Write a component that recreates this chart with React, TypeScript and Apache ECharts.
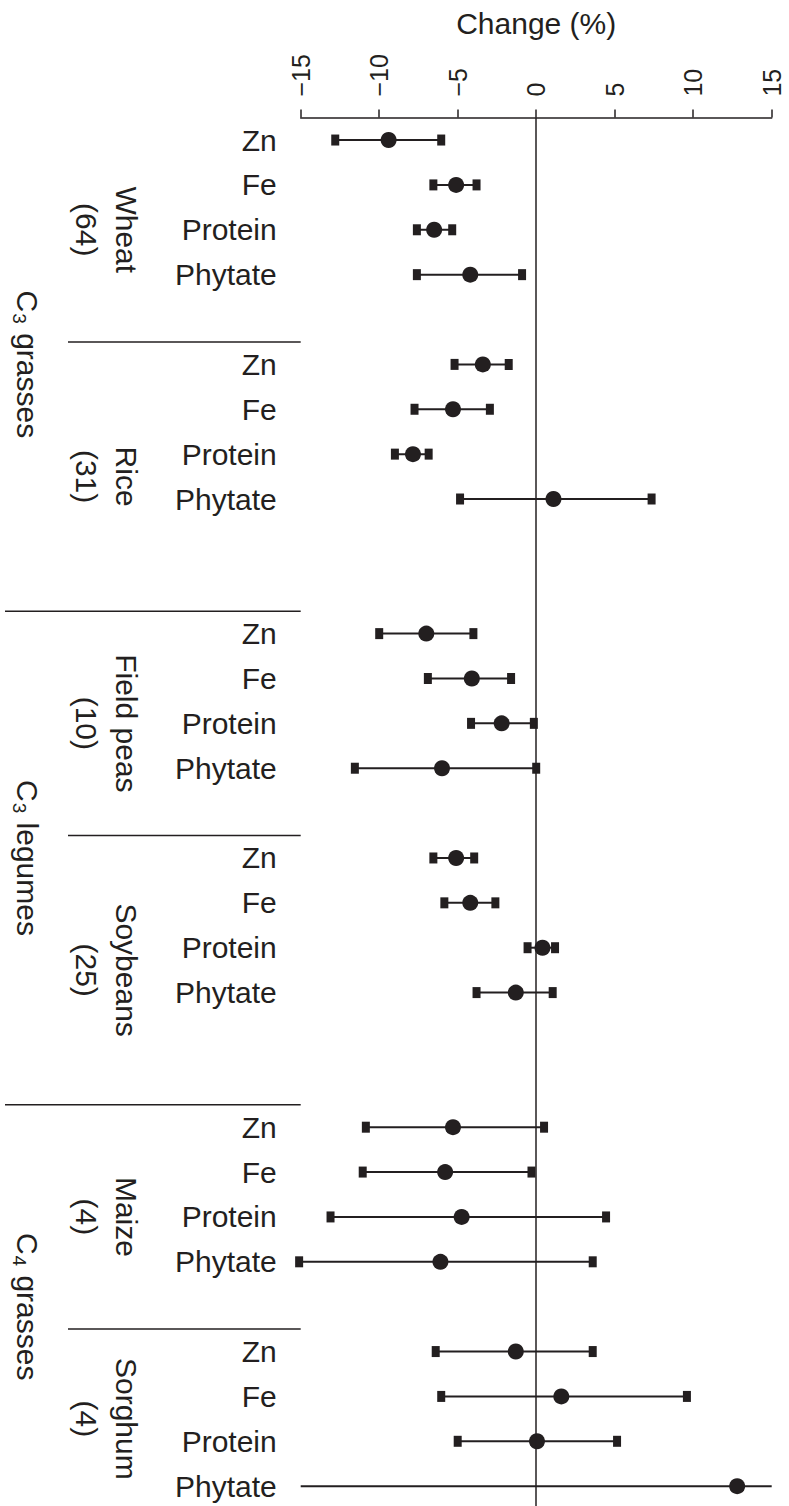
import React, { useEffect, useRef } from "react";
import * as echarts from "echarts";

// ---- data ----
const crops = ["Wheat", "Rice", "Field peas", "Soybeans", "Maize", "Sorghum"];
const cropCounts = ["(64)", "(31)", "(10)", "(25)", "(4)", "(4)"];
const nutrients = ["Zn", "Fe", "Protein", "Phytate"];
const blankRowsAfter = [1, 2, 1, 2, 1, 0];
const groupBase = ["C", "C", "C"];
const groupSub = ["3", "3", "4"];
const groupRest = [" grasses", " legumes", " grasses"];
const groupFirstCrop = [0, 2, 4];
const groupLastCrop = [1, 3, 5];

// per crop: Zn, Fe, Protein, Phytate
const meanChange = [
  -9.4, -5.1, -6.5, -4.2,
  -3.4, -5.3, -7.85, 1.1,
  -7.0, -4.1, -2.2, -6.0,
  -5.1, -4.2, 0.4, -1.3,
  -5.3, -5.8, -4.75, -6.1,
  -1.3, 1.6, 0.05, 12.8,
];
const lowerCI = [
  -12.8, -6.55, -7.6, -7.6,
  -5.2, -7.75, -9.0, -4.85,
  -10.0, -6.9, -4.15, -11.55,
  -6.55, -5.85, -0.55, -3.8,
  -10.85, -11.05, -13.1, -15.1,
  -6.4, -6.05, -5.0, -17.0,
];
const upperCI = [
  -6.05, -3.8, -5.35, -0.9,
  -1.75, -2.95, -6.85, 7.35,
  -4.0, -1.6, -0.15, 0.0,
  -3.95, -2.6, 1.2, 1.05,
  0.5, -0.3, 4.45, 3.6,
  3.6, 9.6, 5.15, 42.0,
];
const xMin = -15;
const xMax = 15;
const xStep = 5;

const INK = "#231f20";
const FONT = "Liberation Sans, Arial, Helvetica, sans-serif";
const NARROW = "Liberation Sans Narrow, Arial Narrow, Liberation Sans, sans-serif";

export default function App() {
  const ref = useRef<HTMLDivElement>(null);

  useEffect(() => {
    if (!ref.current) return;
    const chart = echarts.init(ref.current, null, { renderer: "svg" });

    // build rows
    const rowIds: string[] = [];
    const rowLabels: Record<string, string> = {};
    const cropStart: number[] = [];
    const points: number[][] = [];
    const bars: number[][] = [];
    let blankCount = 0;
    crops.forEach((crop, ci) => {
      cropStart.push(rowIds.length);
      nutrients.forEach((nut, ni) => {
        const id = crop + "|" + nut;
        const k = ci * nutrients.length + ni;
        const row = rowIds.length;
        rowIds.push(id);
        rowLabels[id] = nut;
        points.push([meanChange[k], row]);
        bars.push([lowerCI[k], upperCI[k], meanChange[k], row]);
      });
      for (let b = 0; b < blankRowsAfter[ci]; b++) {
        const id = "blank" + blankCount++;
        rowIds.push(id);
        rowLabels[id] = "";
      }
    });

    const option: any = {
      animation: false,
      backgroundColor: "#fff",
      textStyle: { fontFamily: FONT, color: INK },
      grid: {
        left: 300.7,
        right: 17.3,
        top: 117.6,
        height: 1391,
        containLabel: false,
        outerBoundsMode: "none",
      },
      xAxis: {
        type: "value",
        position: "top",
        min: xMin,
        max: xMax,
        interval: xStep,
        name: "Change (%)",
        nameLocation: "middle",
        nameGap: 79,
        nameMoveOverlap: false,
        nameTextStyle: { fontSize: 30, color: INK, fontFamily: FONT },
        axisLine: { show: true, lineStyle: { color: INK, width: 1.5 } },
        axisTick: { show: true, length: 8, lineStyle: { color: INK, width: 1.5 } },
        splitLine: { show: false },
        axisLabel: {
          rotate: -90,
          fontSize: 25,
          margin: 21,
          color: INK,
          fontFamily: NARROW,
          formatter: (v: number) => (v < 0 ? "\u2212" + Math.abs(v) : String(v)),
        },
      },
      yAxis: {
        type: "category",
        inverse: true,
        data: rowIds,
        axisLine: { show: false },
        axisTick: { show: false },
        splitLine: { show: false },
        axisLabel: {
          interval: 0,
          fontSize: 30,
          margin: 24,
          color: INK,
          fontFamily: FONT,
          formatter: (v: string) => rowLabels[v] || "",
        },
      },
      series: [
        {
          type: "custom",
          data: bars,
          encode: { x: [0, 1], y: 3 },
          z: 2,
          renderItem: (params: any, api: any) => {
            const lo = api.value(0);
            const hi = api.value(1);
            const y = api.value(3);
            const loC = Math.max(lo, xMin);
            const hiC = Math.min(hi, xMax);
            const p1 = api.coord([loC, y]);
            const p2 = api.coord([hiC, y]);
            const children: any[] = [
              {
                type: "line",
                shape: { x1: p1[0], y1: p1[1], x2: p2[0], y2: p2[1] },
                style: { stroke: INK, lineWidth: 2 },
              },
            ];
            const capW = 8;
            const capH = 11;
            [lo, hi].forEach((v) => {
              if (v >= xMin - 0.5 && v <= xMax + 0.5) {
                const c = api.coord([v, y]);
                children.push({
                  type: "rect",
                  shape: { x: c[0] - capW / 2, y: c[1] - capH / 2, width: capW, height: capH },
                  style: { fill: INK },
                });
              }
            });
            return { type: "group", children };
          },
        },
        {
          type: "scatter",
          data: points,
          symbol: "circle",
          symbolSize: 16,
          itemStyle: { color: INK, opacity: 1 },
          z: 3,
          markLine: {
            silent: true,
            symbol: ["none", "none"],
            label: { show: false },
            lineStyle: { color: INK, width: 1.5, type: "solid" },
            data: [{ xAxis: 0 }],
          },
        },
      ],
    };
    chart.setOption(option);

    // layout-derived annotation positions
    const y0 = chart.convertToPixel({ yAxisIndex: 0 }, 0) as number;
    const band = (chart.convertToPixel({ yAxisIndex: 0 }, 1) as number) - y0;
    const yOf = (k: number) => y0 + k * band;
    const leftEdge = chart.convertToPixel({ xAxisIndex: 0 }, xMin) as number;
    const cropEnd = crops.map((_, i) =>
      i < crops.length - 1 ? cropStart[i + 1] - 0.5 : rowIds.length - 0.5
    );
    const cropBegin = cropStart.map((s) => s - 0.5);

    const graphics: any[] = [];
    crops.forEach((crop, i) => {
      if (i > 0) {
        const isGroupStart = groupFirstCrop.indexOf(i) >= 0;
        const y = yOf(cropBegin[i]);
        graphics.push({
          type: "line",
          shape: { x1: isGroupStart ? 5 : 68, y1: y, x2: leftEdge, y2: y },
          style: { stroke: INK, lineWidth: 1.5 },
        });
      }
      const yc = (yOf(cropBegin[i]) + yOf(cropEnd[i])) / 2;
      graphics.push({
        type: "text",
        x: 126,
        y: yc,
        rotation: -Math.PI / 2,
        style: {
          text: crop,
          fontSize: 30,
          fontFamily: FONT,
          fill: INK,
          align: "center",
          verticalAlign: "middle",
        },
      });
      graphics.push({
        type: "text",
        x: 86,
        y: yc,
        rotation: -Math.PI / 2,
        style: {
          text: cropCounts[i],
          fontSize: 30,
          fontFamily: FONT,
          fill: INK,
          align: "center",
          verticalAlign: "middle",
        },
      });
    });
    groupBase.forEach((base, g) => {
      const yc =
        (yOf(cropBegin[groupFirstCrop[g]]) + yOf(cropEnd[groupLastCrop[g]])) / 2;
      graphics.push({
        type: "text",
        x: 27,
        y: yc,
        rotation: -Math.PI / 2,
        style: {
          text: "{b|" + base + "}{s|" + groupSub[g] + "}{b|" + groupRest[g] + "}",
          fontFamily: FONT,
          fill: INK,
          align: "center",
          verticalAlign: "middle",
          rich: {
            b: { fontSize: 30, fontFamily: FONT, color: INK },
            s: { fontSize: 19, fontFamily: FONT, color: INK, padding: [16, 1, 0, 1] },
          },
        },
      });
    });
    chart.setOption({ graphic: graphics });

    return () => chart.dispose();
  }, []);

  return (
    <div
      ref={ref}
      style={{ position: "absolute", left: 0, top: 0, width: 789, height: 1506 }}
    />
  );
}
